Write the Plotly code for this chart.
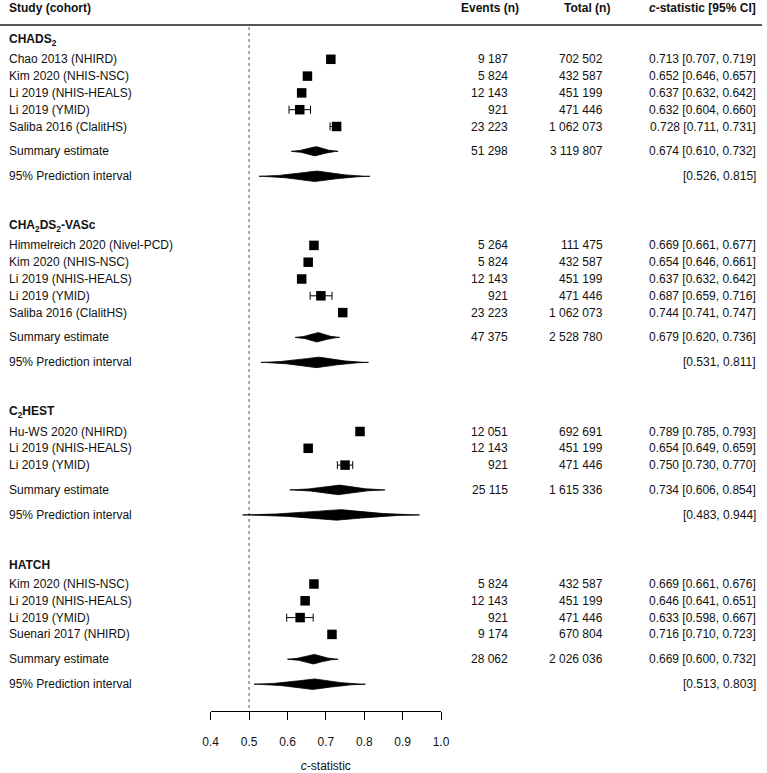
import plotly.graph_objects as go

# ---------------- data ----------------
group_names = ["CHADS<sub>2</sub>", "CHA<sub>2</sub>DS<sub>2</sub>-VASc", "C<sub>2</sub>HEST", "HATCH"]

study_group = [0, 0, 0, 0, 0,
               1, 1, 1, 1, 1,
               2, 2, 2,
               3, 3, 3, 3]
study_names = ["Chao 2013 (NHIRD)", "Kim 2020 (NHIS-NSC)", "Li 2019 (NHIS-HEALS)", "Li 2019 (YMID)", "Saliba 2016 (ClalitHS)",
               "Himmelreich 2020 (Nivel-PCD)", "Kim 2020 (NHIS-NSC)", "Li 2019 (NHIS-HEALS)", "Li 2019 (YMID)", "Saliba 2016 (ClalitHS)",
               "Hu-WS 2020 (NHIRD)", "Li 2019 (NHIS-HEALS)", "Li 2019 (YMID)",
               "Kim 2020 (NHIS-NSC)", "Li 2019 (NHIS-HEALS)", "Li 2019 (YMID)", "Suenari 2017 (NHIRD)"]
study_events = [9187, 5824, 12143, 921, 23223,
                5264, 5824, 12143, 921, 23223,
                12051, 12143, 921,
                5824, 12143, 921, 9174]
study_total = [702502, 432587, 451199, 471446, 1062073,
               111475, 432587, 451199, 471446, 1062073,
               692691, 451199, 471446,
               432587, 451199, 471446, 670804]
study_est = [0.713, 0.652, 0.637, 0.632, 0.728,
             0.669, 0.654, 0.637, 0.687, 0.744,
             0.789, 0.654, 0.750,
             0.669, 0.646, 0.633, 0.716]
study_lo = [0.707, 0.646, 0.632, 0.604, 0.711,
            0.661, 0.646, 0.632, 0.659, 0.741,
            0.785, 0.649, 0.730,
            0.661, 0.641, 0.598, 0.710]
study_hi = [0.719, 0.657, 0.642, 0.660, 0.731,
            0.677, 0.661, 0.642, 0.716, 0.747,
            0.793, 0.659, 0.770,
            0.676, 0.651, 0.667, 0.723]

sum_events = [51298, 47375, 25115, 28062]
sum_total = [3119807, 2528780, 1615336, 2026036]
sum_est = [0.674, 0.679, 0.734, 0.669]
sum_lo = [0.610, 0.620, 0.606, 0.600]
sum_hi = [0.732, 0.736, 0.854, 0.732]
pi_lo = [0.526, 0.531, 0.483, 0.513]
pi_hi = [0.815, 0.811, 0.944, 0.803]

tick_vals = [0.4, 0.5, 0.6, 0.7, 0.8, 0.9, 1.0]
tick_text = ["0.4", "0.5", "0.6", "0.7", "0.8", "0.9", "1.0"]
null_value = 0.5

# ---------------- layout helpers ----------------
W, H = 767, 773
FONT = "Liberation Sans, Arial, sans-serif"
FS = 12

Y0 = 40.0
HEAD_GAP = 19.3
STEP = 16.8
SUM_GAP = 24.8
PI_GAP = 25.0
GROUP_GAP = 49.8

X_LABEL = 9
X_EVENTS = 508
X_TOTAL = 603
X_CSTAT = 756
AXIS_Y = 711


def fmt_int(v):
    return f"{v:,}".replace(",", " ")


def fmt_ci(e, l, h):
    return f"{e:.3f} [{l:.3f}, {h:.3f}]"


# compute row positions
head_y, study_y, sum_y, pi_y = [], [], [], []
y = Y0
for g in range(len(group_names)):
    head_y.append(y)
    y += HEAD_GAP
    idx = [i for i, sg in enumerate(study_group) if sg == g]
    for k, i in enumerate(idx):
        study_y.append(y)
        if k < len(idx) - 1:
            y += STEP
    y += SUM_GAP
    sum_y.append(y)
    y += PI_GAP
    pi_y.append(y)
    y += GROUP_GAP

fig = go.Figure()

# study squares with CI
fig.add_trace(go.Scatter(
    x=study_est, y=study_y, mode="markers",
    marker=dict(symbol="square", size=9.5, color="black"),
    error_x=dict(type="data", symmetric=False,
                 array=[h - e for h, e in zip(study_hi, study_est)],
                 arrayminus=[e - l for e, l in zip(study_est, study_lo)],
                 color="black", thickness=1, width=4),
    hoverinfo="skip", showlegend=False))


def spindle(lo, est, hi, yc, half, p=1.7, n=40):
    top_x, top_y = [], []
    for i in range(n + 1):
        t = i / n
        top_x.append(lo + (est - lo) * t)
        top_y.append(yc - half * (t ** p))
    for i in range(1, n + 1):
        t = i / n
        top_x.append(est + (hi - est) * t)
        top_y.append(yc - half * ((1 - t) ** p))
    bot_x = top_x[::-1]
    bot_y = [2 * yc - v for v in top_y[::-1]]
    return top_x + bot_x, top_y + bot_y


for g in range(len(group_names)):
    sx, sy = spindle(sum_lo[g], sum_est[g], sum_hi[g], sum_y[g], 5.0)
    fig.add_trace(go.Scatter(x=sx, y=sy, mode="lines", fill="toself",
                             fillcolor="black", line=dict(color="black", width=0.8),
                             hoverinfo="skip", showlegend=False))
    px_, py_ = spindle(pi_lo[g], sum_est[g], pi_hi[g], pi_y[g], 5.5)
    fig.add_trace(go.Scatter(x=px_, y=py_, mode="lines", fill="toself",
                             fillcolor="black", line=dict(color="black", width=0.8),
                             hoverinfo="skip", showlegend=False))

ann = []


def add_text(xpx, ypx, text, anchor="left", bold=False):
    ann.append(dict(x=xpx / W, xref="paper", y=ypx, yref="y", text=(f"<b>{text}</b>" if bold else text),
                    showarrow=False, xanchor=anchor, yanchor="middle", borderpad=0, borderwidth=0,
                    font=dict(family=FONT, size=FS, color="#111")))


# headers
HDR_Y = 8
add_text(X_LABEL, HDR_Y, "Study (cohort)", bold=True)
add_text(519, HDR_Y, "Events (n)", anchor="right", bold=True)
add_text(610, HDR_Y, "Total (n)", anchor="right", bold=True)
add_text(X_CSTAT, HDR_Y, "<i>c</i>-statistic [95% CI]", anchor="right", bold=True)

for g in range(len(group_names)):
    add_text(X_LABEL, head_y[g], group_names[g], bold=True)
    add_text(X_LABEL, sum_y[g], "Summary estimate")
    add_text(X_EVENTS, sum_y[g], fmt_int(sum_events[g]), anchor="right")
    add_text(X_TOTAL, sum_y[g], fmt_int(sum_total[g]), anchor="right")
    add_text(X_CSTAT, sum_y[g], fmt_ci(sum_est[g], sum_lo[g], sum_hi[g]), anchor="right")
    add_text(X_LABEL, pi_y[g], "95% Prediction interval")
    add_text(X_CSTAT, pi_y[g], f"[{pi_lo[g]:.3f}, {pi_hi[g]:.3f}]", anchor="right")

for i in range(len(study_names)):
    add_text(X_LABEL, study_y[i], study_names[i])
    add_text(X_EVENTS, study_y[i], fmt_int(study_events[i]), anchor="right")
    add_text(X_TOTAL, study_y[i], fmt_int(study_total[i]), anchor="right")
    add_text(X_CSTAT, study_y[i], fmt_ci(study_est[i], study_lo[i], study_hi[i]), anchor="right")

shapes = [
    dict(type="line", xref="paper", yref="y", x0=0, x1=762 / W, y0=25, y1=25,
         line=dict(color="#555", width=2)),
    dict(type="line", xref="x", yref="y", x0=null_value, x1=null_value, y0=27, y1=AXIS_Y,
         line=dict(color="#555", width=1, dash="dot"), layer="below"),
]

X_DOM0 = 210.7 / W
X_DOM1 = 441.0 / W

fig.update_layout(
    width=W, height=H,
    margin=dict(l=0, r=0, t=0, b=0, pad=0, autoexpand=False),
    paper_bgcolor="white", plot_bgcolor="white",
    showlegend=False,
    annotations=ann,
    shapes=shapes,
    xaxis=dict(domain=[X_DOM0, X_DOM1], range=[0.4, 1.0], anchor="free",
               position=1 - AXIS_Y / H, automargin=False,
               tickmode="array", tickvals=tick_vals, ticktext=tick_text,
               ticks="outside", ticklen=8, tickwidth=1, tickcolor="black",
               showline=True, linecolor="black", linewidth=1,
               showgrid=False, zeroline=False, ticklabelstandoff=12,
               tickfont=dict(family=FONT, size=FS, color="#111"),
               title=dict(text="<i>c</i>-statistic", standoff=25,
                          font=dict(family=FONT, size=FS, color="#111"))),
    yaxis=dict(domain=[0, 1], range=[H, 0], visible=False, fixedrange=True, automargin=False),
)

fig.write_html("out.html",
               config={"displayModeBar": False, "staticPlot": True},
               post_script="document.body.style.margin='0px';document.body.style.overflow='hidden';")
